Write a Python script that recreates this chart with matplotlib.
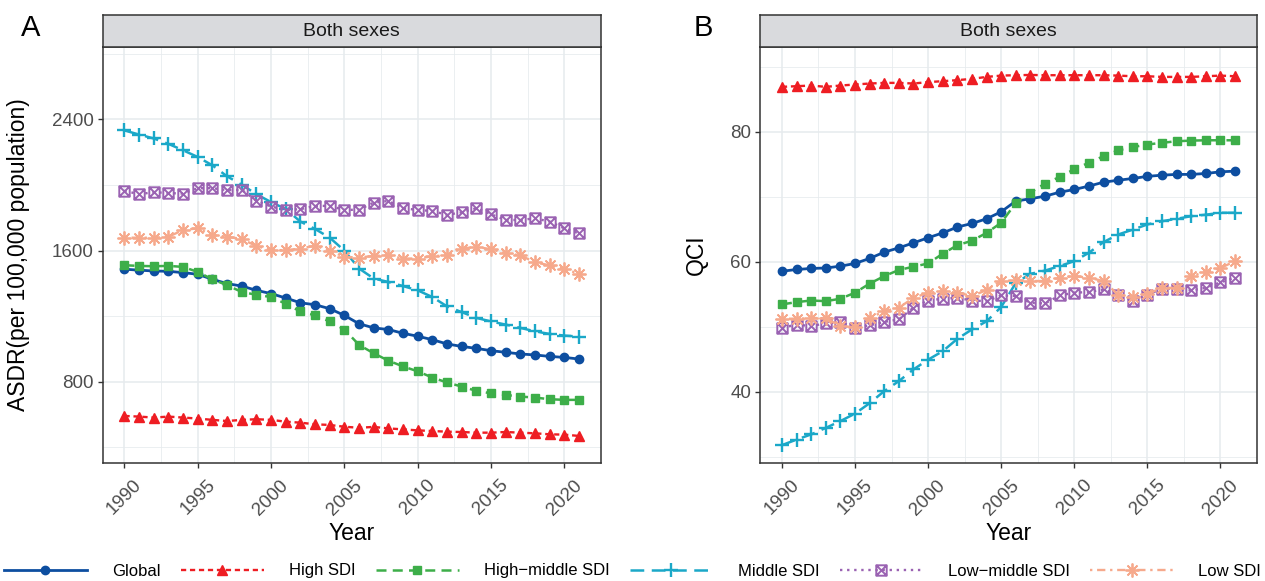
import matplotlib
matplotlib.use("Agg")
import matplotlib.pyplot as plt
from matplotlib.path import Path
from matplotlib.ticker import MultipleLocator

plt.rcParams['font.family'] = ['Liberation Sans', 'DejaVu Sans']

years = list(range(1990, 2022))
series_names = ["Global", "High SDI", "High\u2212middle SDI", "Middle SDI",
                "Low\u2212middle SDI", "Low SDI"]

# Panel A: ASDR (per 100,000 population)
asdr_global = [1487, 1481, 1476, 1474, 1466, 1456, 1425, 1399, 1384, 1358,
               1338, 1311, 1282, 1270, 1246, 1205, 1154, 1129, 1119, 1096,
               1078, 1057, 1031, 1016, 1004, 990, 980, 970, 964, 955,
               949, 939]
asdr_high = [592, 588, 582, 588, 582, 576, 568, 561, 568, 572,
             568, 557, 551, 541, 537, 526, 520, 525, 516, 510,
             504, 500, 496, 494, 490, 490, 494, 490, 486, 480,
             478, 470]
asdr_highmid = [1511, 1507, 1505, 1507, 1501, 1470, 1425, 1389, 1348, 1331,
                1317, 1276, 1229, 1205, 1168, 1119, 1025, 974, 929, 894,
                864, 826, 796, 771, 745, 730, 720, 710, 704, 694,
                690, 690]
asdr_mid = [2333, 2308, 2284, 2251, 2212, 2171, 2120, 2053, 2002, 1944,
            1896, 1854, 1777, 1732, 1679, 1600, 1491, 1430, 1409, 1384,
            1358, 1317, 1260, 1225, 1190, 1168, 1149, 1129, 1108, 1092,
            1082, 1076]
asdr_lowmid = [1965, 1944, 1957, 1951, 1948, 1981, 1981, 1969, 1971, 1905,
               1869, 1848, 1853, 1873, 1873, 1848, 1850, 1893, 1903, 1859,
               1848, 1842, 1818, 1834, 1859, 1822, 1787, 1787, 1797, 1777,
               1736, 1705]
asdr_low = [1679, 1679, 1679, 1685, 1726, 1736, 1695, 1685, 1671, 1628,
            1603, 1603, 1613, 1630, 1600, 1562, 1558, 1568, 1572, 1552,
            1552, 1566, 1572, 1613, 1623, 1609, 1583, 1572, 1528, 1511,
            1487, 1460]

# Panel B: QCI
qci_global = [58.5, 58.77, 58.93, 59.0, 59.28, 59.7, 60.47, 61.44, 62.1, 62.87,
              63.65, 64.4, 65.3, 65.85, 66.57, 67.65, 69.3, 69.65, 70.05, 70.66,
              71.08, 71.6, 72.2, 72.5, 72.77, 73.1, 73.28, 73.4, 73.4, 73.54,
              73.8, 73.9]
qci_high = [86.87, 86.97, 87.07, 86.87, 87.07, 87.23, 87.38, 87.48, 87.48, 87.38,
            87.6, 87.74, 87.9, 88.1, 88.4, 88.6, 88.66, 88.7, 88.66, 88.66,
            88.66, 88.66, 88.66, 88.6, 88.5, 88.5, 88.4, 88.4, 88.4, 88.5,
            88.6, 88.5]
qci_highmid = [53.4, 53.75, 54.0, 53.9, 54.27, 55.2, 56.6, 57.75, 58.7, 59.2,
               59.7, 61.2, 62.5, 63.2, 64.4, 65.96, 69.0, 70.6, 72.0, 73.0,
               74.2, 75.2, 76.2, 77.1, 77.6, 78.0, 78.26, 78.5, 78.6, 78.65,
               78.65, 78.65]
qci_mid = [31.75, 32.6, 33.4, 34.4, 35.45, 36.6, 38.2, 40.06, 41.6, 43.4,
           44.9, 46.2, 48.1, 49.55, 50.8, 53.0, 56.7, 58.1, 58.6, 59.3,
           60.05, 61.35, 62.98, 64.15, 64.9, 65.7, 66.2, 66.57, 66.97, 67.2,
           67.5, 67.5]
qci_lowmid = [49.8, 50.3, 50.05, 50.5, 50.7, 49.8, 50.17, 50.7, 51.1, 52.9,
              54.0, 54.27, 54.4, 54.0, 53.9, 54.78, 54.7, 53.65, 53.55, 54.78,
              55.2, 55.3, 55.7, 54.9, 54.0, 54.9, 55.8, 55.8, 55.55, 55.95,
              56.8, 57.5]
qci_low = [51.2, 51.2, 51.3, 51.3, 50.05, 49.9, 51.3, 52.35, 52.9, 54.4,
           55.2, 55.4, 55.2, 54.7, 55.6, 57.0, 57.1, 57.0, 57.0, 57.5,
           57.75, 57.5, 57.0, 54.9, 54.5, 55.0, 55.95, 55.95, 57.75, 58.4,
           59.0, 60.05]

# square with a cross inside (like R pch 7)
square_cross = Path(
    [(-1, -1), (1, -1), (1, 1), (-1, 1), (-1, -1), (-1, -1), (1, 1), (-1, 1), (1, -1)],
    [Path.MOVETO, Path.LINETO, Path.LINETO, Path.LINETO, Path.CLOSEPOLY,
     Path.MOVETO, Path.LINETO, Path.MOVETO, Path.LINETO])

estilos = [
    dict(color="#0D4EA0", ls="-", marker="o", ms=6, lw=2.0),
    dict(color="#EE1D23", ls=(0, (2.2, 1.6)), marker="^", ms=7, lw=1.7),
    dict(color="#3DAE49", ls=(0, (4, 2.5)), marker="s", ms=6, lw=1.8),
    dict(color="#1BA8C8", ls=(0, (5.5, 3)), marker="+", ms=10, mew=1.7, lw=1.8),
    dict(color="#9A62B2", ls=(0, (1, 2)), marker=square_cross, ms=7.5, mew=1.4,
         mfc="none", lw=1.7),
    dict(color="#F6A98C", ls=(0, (1, 2, 3.5, 2)), marker=(8, 2, 0), ms=10, mew=1.3,
         lw=1.7),
]

W, H = 1265, 581
fig = plt.figure(figsize=(W / 100, H / 100), dpi=100)

borda = "#333333"
grade = "#E6EBEE"


def painel(left_px, right_px, ylim, yticks, ylabel, dados, letra, letra_x, ylabel_x):
    top_px, bottom_px, strip_top = 47, 463, 14.5
    ax = fig.add_axes([left_px / W, 1 - bottom_px / H,
                       (right_px - left_px) / W, (bottom_px - top_px) / H])
    for (vals, st) in zip(dados, estilos):
        ax.plot(years, vals, zorder=3, **st)
    ax.set_xlim(1988.5, 2022.5)
    ax.set_ylim(*ylim)
    ax.set_xticks(range(1990, 2021, 5))
    ax.xaxis.set_minor_locator(MultipleLocator(2.5))
    ax.set_yticks(yticks)
    ax.yaxis.set_minor_locator(MultipleLocator((yticks[1] - yticks[0]) / 2))
    ax.grid(which="major", color=grade, lw=1.1, zorder=0)
    ax.grid(which="minor", color=grade, lw=0.55, zorder=0)
    ax.tick_params(which="minor", length=0)
    ax.tick_params(which="major", length=3.8, width=1, color=borda,
                   labelsize=13.5, labelcolor="#4D4D4D")
    for lab in ax.get_xticklabels():
        lab.set_rotation(45)
        lab.set_ha("center")
    ax.tick_params(axis="x", pad=6)
    ax.tick_params(axis="y", pad=2.5)
    for s in ax.spines.values():
        s.set_color(borda)
        s.set_linewidth(1.1)
    ax.set_xlabel("Year", fontsize=16.5, labelpad=3)
    ax.set_ylabel(ylabel, fontsize=16.5)
    ax.yaxis.set_label_coords((ylabel_x - left_px) / (right_px - left_px), 0.5)

    # facet strip
    sx = fig.add_axes([left_px / W, 1 - top_px / H,
                       (right_px - left_px) / W, (top_px - strip_top) / H])
    sx.set_facecolor("#D9DADD")
    sx.set_xticks([])
    sx.set_yticks([])
    for s in sx.spines.values():
        s.set_color(borda)
        s.set_linewidth(1.1)
    sx.text(0.5, 0.48, "Both sexes", ha="center", va="center", fontsize=14,
            color="#1A1A1A", transform=sx.transAxes)
    fig.text(letra_x / W, 1 - 28 / H, letra, fontsize=21, ha="center", va="center")
    return ax


ax_a = painel(102.5, 601, (305, 2842), [800, 1600, 2400],
              "ASDR(per 100,000 population)",
              [asdr_global, asdr_high, asdr_highmid, asdr_mid, asdr_lowmid, asdr_low],
              "A", 31, 30)
ax_b = painel(760, 1257, (29.0, 93.0), [40, 60, 80], "QCI",
              [qci_global, qci_high, qci_highmid, qci_mid, qci_lowmid, qci_low],
              "B", 703, 708)

handles = ax_a.get_lines()
fig.legend(handles, series_names, loc="center", bbox_to_anchor=(0.5, 1 - 571 / H),
           ncol=6, frameon=False, fontsize=12, handlelength=5.0,
           handletextpad=1.5, columnspacing=1.2, numpoints=1, borderaxespad=0)

fig.savefig("out.png", dpi=100)
